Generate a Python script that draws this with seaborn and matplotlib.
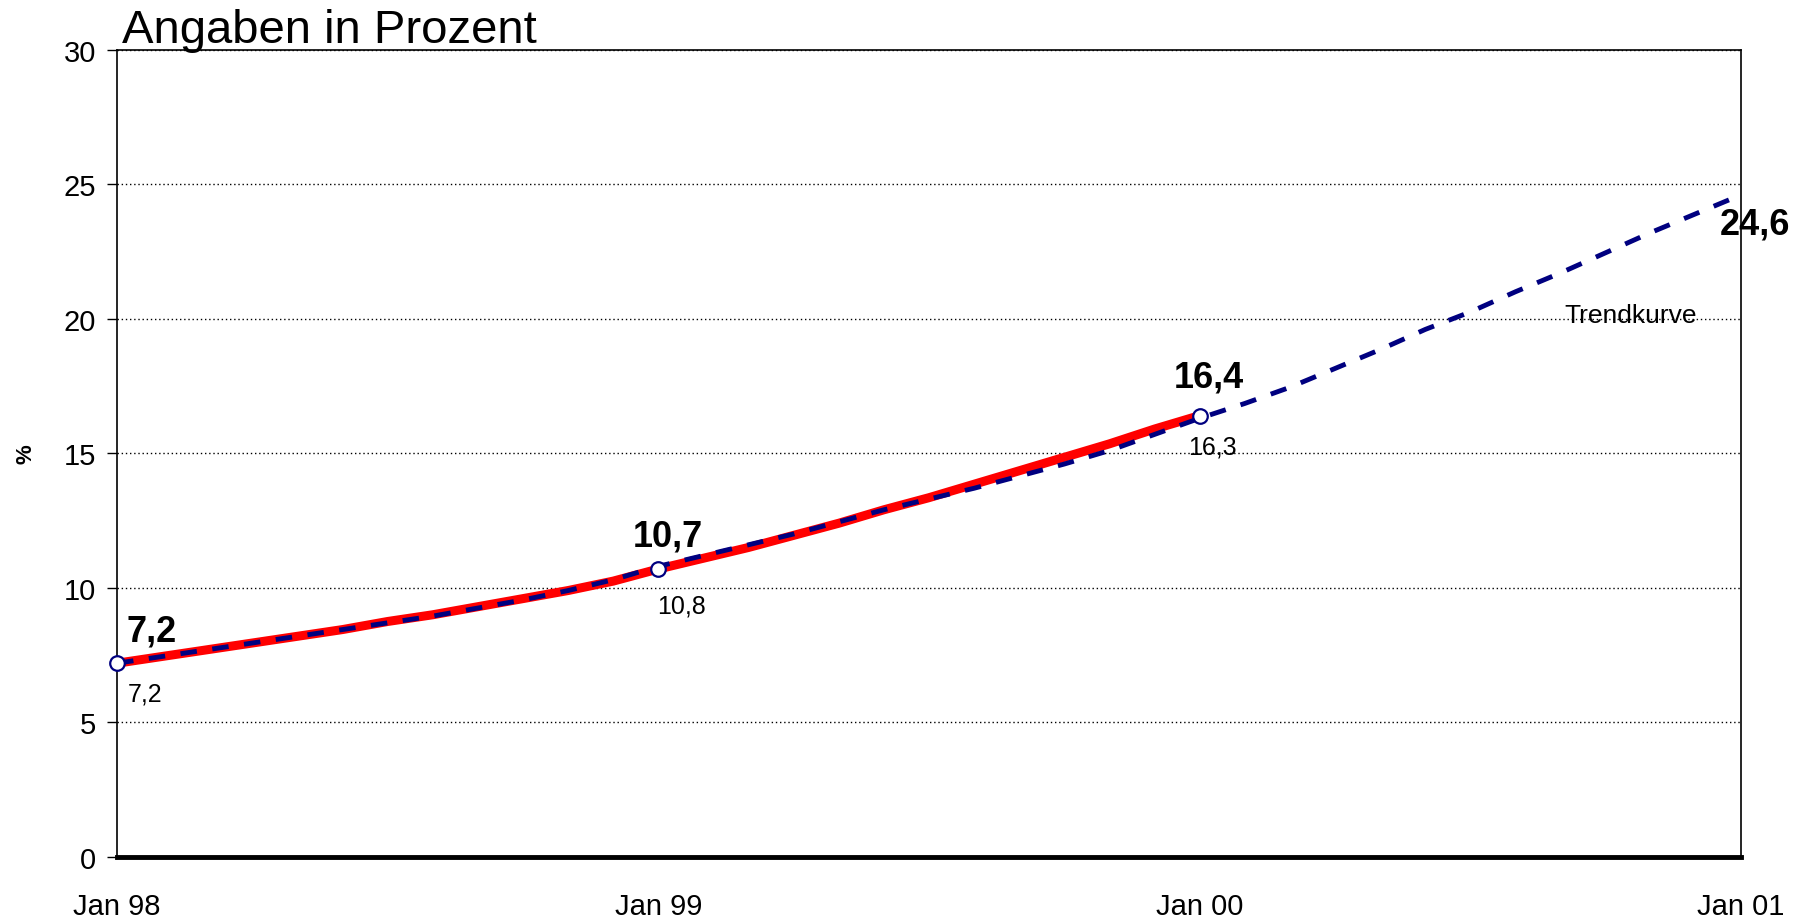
import numpy as np
import pandas as pd
import matplotlib
matplotlib.use("Agg")
import matplotlib.pyplot as plt
import seaborn as sns

sns.set_style("white")
plt.rcParams['font.family'] = ['Liberation Sans', 'DejaVu Sans']
plt.rcParams['text.color'] = 'black'
plt.rcParams['xtick.color'] = 'black'
plt.rcParams['ytick.color'] = 'black'
plt.rcParams['axes.labelcolor'] = 'black'

# monthly values, Jan 98 .. Jan 00 (actual) and Jan 98 .. Jan 01 (trend)
ist = [7.2, 7.45, 7.7, 7.95, 8.2, 8.45, 8.75, 9.0, 9.3, 9.6, 9.9, 10.25, 10.7,
       11.1, 11.5, 11.95, 12.4, 12.9, 13.35, 13.85, 14.35, 14.85, 15.35, 15.9, 16.4]
trend = [7.2, 7.45, 7.7, 7.95, 8.2, 8.45, 8.7, 8.95, 9.25, 9.55, 9.9, 10.3, 10.8,
         11.2, 11.6, 12.0, 12.45, 12.9, 13.3, 13.7, 14.15, 14.6, 15.1, 15.7, 16.3,
         16.85, 17.45, 18.15, 18.85, 19.6, 20.25, 21.0, 21.7, 22.45, 23.2, 23.9, 24.6]
tick_labels = ["Jan 98", "Jan 99", "Jan 00", "Jan 01"]
ist_labels = ["7,2", "10,7", "16,4"]
trend_labels = ["7,2", "10,8", "16,3"]

df_ist = pd.DataFrame({'month': np.arange(len(ist)), 'wert': ist})
df_trend = pd.DataFrame({'month': np.arange(len(trend)), 'wert': trend})
jan = df_ist[df_ist.month % 12 == 0].reset_index(drop=True)

fig = plt.figure(figsize=(18.01, 9.20), dpi=100)
ax = fig.add_axes([0.065, 0.0674, 0.9017, 0.8777])

sns.lineplot(data=df_ist, x='month', y='wert', ax=ax, color='#ff0000', lw=6.5, zorder=3)
sns.lineplot(data=df_trend, x='month', y='wert', ax=ax, color='#000080', lw=3.5,
             dashes=False, zorder=4, clip_on=False)
ax.lines[-1].set_dashes([3.4, 3.2])
sns.scatterplot(data=jan, x='month', y='wert', ax=ax, s=110, color='white',
                edgecolor='#000080', linewidth=1.6, zorder=5, clip_on=False)

# label offsets in points
bold_off = [(6.5, 16), (6.5, 17), (6.5, 21)]
small_off = [(20, -21.5), (17, -28), (9, -20)]
for i, row in jan.iterrows():
    ax.annotate(ist_labels[i], (row.month, row.wert), xytext=bold_off[i], textcoords='offset points',
                ha='left' if i == 0 else 'center', fontsize=26, fontweight='bold')
    ax.annotate(trend_labels[i], (row.month, trend[int(row.month)]), xytext=small_off[i],
                textcoords='offset points', ha='center', va='center', fontsize=18)
ax.annotate("24,6", (36, trend[-1]), xytext=(10, -21), textcoords='offset points',
            ha='center', va='center', fontsize=26, fontweight='bold', annotation_clip=False)
ax.text(33.56, 20.15, "Trendkurve", fontsize=19, va='center', ha='center')

ax.set_xlim(0, 36)
ax.set_ylim(0, 30)
ax.set_xticks([0, 12, 24, 36])
ax.set_xticklabels(tick_labels)
ax.set_yticks(range(0, 31, 5))
ax.tick_params(axis='x', direction='inout', length=22, width=1, labelsize=21, pad=14)
ax.tick_params(axis='y', direction='out', length=7, width=1, labelsize=21, pad=8, left=True)
ax.set_xlabel("")
ax.set_ylabel("%", fontsize=16, fontweight='bold')
ax.yaxis.set_label_coords(-0.0497, 0.5)
ax.yaxis.grid(True, linestyle=(0, (1, 2)), color='black', lw=1)
for s in ['left', 'right', 'top']:
    ax.spines[s].set_color('black')
    ax.spines[s].set_linewidth(1.2)
ax.spines['bottom'].set_color('black')
ax.spines['bottom'].set_linewidth(3.5)
fig.text(0.068, 0.953, "Angaben in Prozent", fontsize=34, ha='left', va='baseline')

fig.savefig("out.png", dpi=100)
